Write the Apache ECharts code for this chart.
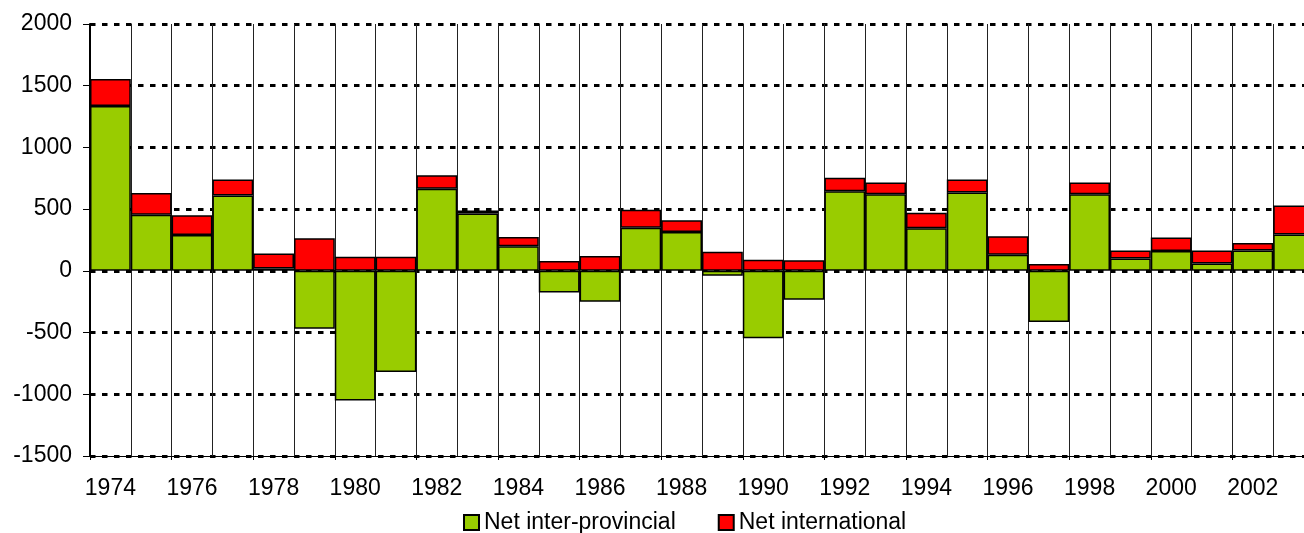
<!DOCTYPE html>
<html>
<head>
<meta charset="utf-8">
<script src="https://cdn.jsdelivr.net/npm/echarts@6/dist/echarts.min.js"></script>
<style>
  html, body { margin: 0; padding: 0; background: #fff; }
  #chart { width: 1304px; height: 533px; }
</style>
</head>
<body>
<div id="chart"></div>
<script>
const years = ['1974','1975','1976','1977','1978','1979','1980','1981','1982','1983',
  '1984','1985','1986','1987','1988','1989','1990','1991','1992','1993',
  '1994','1995','1996','1997','1998','1999','2000','2001','2002','2003']

// net inter-provincial migration
const interProvincial = [1335, 455, 290, 610, 20, -470, -1050, -820, 665, 465,
  200, -175, -250, 350, 315, -40, -545, -235, 645, 620,
  345, 635, 130, -415, 620, 100, 160, 60, 165, 295]

// net international migration
const international = [220, 175, 160, 130, 120, 265, 115, 115, 110, 25,
  75, 80, 120, 145, 95, 155, 90, 85, 110, 95,
  125, 105, 150, 55, 95, 65, 110, 105, 60, 235]

const chart = echarts.init(document.getElementById('chart'))
const font = 'Liberation Sans, Arial, sans-serif'

const barStyle = (color) => ({
  color: color,
  borderColor: '#000',
  borderWidth: 1.5
})

chart.setOption({
  animation: false,
  textStyle: { fontFamily: font },
  // plot runs off the right edge in the original, so width is fixed
  grid: { left: 90, width: 1224, top: 24, bottom: 77, outerBoundsMode: 'none', containLabel: false },
  legend: {
    left: 458,
    top: 506,
    icon: 'rect',
    itemWidth: 15,
    itemHeight: 15,
    itemGap: 42,
    textStyle: { fontSize: 23, color: '#000', fontFamily: font },
    data: ['Net inter-provincial', 'Net international']
  },
  xAxis: {
    type: 'category',
    data: years,
    axisLine: { onZero: false, lineStyle: { color: '#000', width: 1 } },
    axisTick: { show: true, length: 4, lineStyle: { color: '#000' } },
    axisLabel: { interval: 1, fontSize: 23, color: '#000', margin: 21 },
    splitLine: { show: true, interval: 0, lineStyle: { color: '#222', width: 1 } }
  },
  yAxis: {
    type: 'value',
    min: -1500,
    max: 2000,
    interval: 500,
    axisLine: { show: true, lineStyle: { color: '#000', width: 2 } },
    axisTick: { show: true, length: 7, lineStyle: { color: '#000' } },
    axisLabel: { fontSize: 23, color: '#000', margin: 18, formatter: (v) => String(v) },
    splitLine: { lineStyle: { color: '#000', width: 3, type: [5.5, 6.5] } }
  },
  series: [
    {
      name: 'Net inter-provincial',
      type: 'bar',
      stack: 'total',
      barCategoryGap: '0%',
      itemStyle: barStyle('#99CC00'),
      data: interProvincial
    },
    {
      name: 'Net international',
      type: 'bar',
      stack: 'total',
      barCategoryGap: '0%',
      itemStyle: barStyle('#FF0000'),
      data: international
    }
  ]
})
</script>
</body>
</html>
